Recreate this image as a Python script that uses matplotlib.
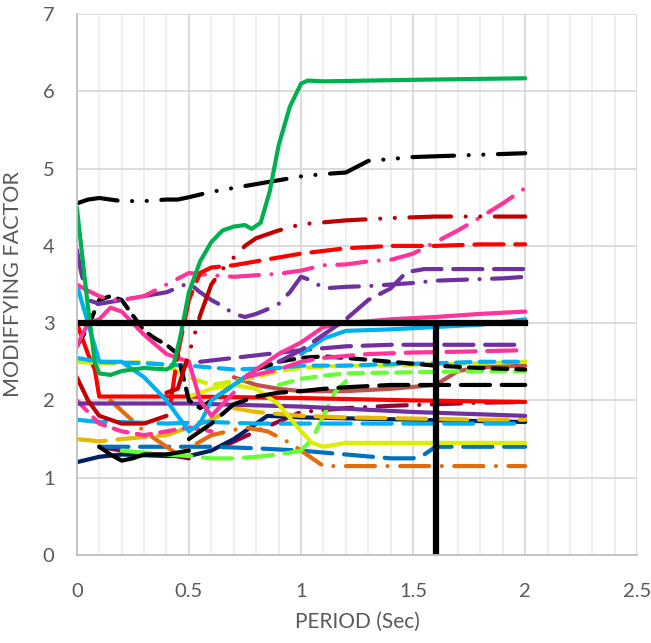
import matplotlib
matplotlib.use("Agg")
import matplotlib.pyplot as plt
from matplotlib.ticker import MultipleLocator

plt.rcParams['font.family'] = ['Lato', 'DejaVu Sans']

# ---------------- data ----------------
# each curve: periods, factors
green_x = [0, 0.05, 0.08, 0.1, 0.15, 0.2, 0.3, 0.4, 0.43, 0.46, 0.5, 0.55, 0.6, 0.65, 0.7, 0.75, 0.78, 0.82, 0.86, 0.9, 0.95, 1.0, 1.03, 1.1, 1.5, 2.0]
green_y = [4.5, 3.2, 2.5, 2.35, 2.33, 2.38, 2.42, 2.4, 2.45, 2.8, 3.4, 3.8, 4.05, 4.2, 4.25, 4.27, 4.22, 4.3, 4.7, 5.3, 5.8, 6.1, 6.14, 6.13, 6.15, 6.17]

blk_top_x = [0, 0.05, 0.1, 0.2, 0.3, 0.4, 0.45, 0.5, 0.6, 0.7, 0.8, 0.9, 1.0, 1.1, 1.2, 1.3, 1.5, 1.7, 2.0]
blk_top_y = [4.55, 4.6, 4.62, 4.58, 4.58, 4.6, 4.6, 4.63, 4.7, 4.75, 4.8, 4.85, 4.9, 4.93, 4.95, 5.1, 5.15, 5.17, 5.2]

dred_x = [0.4, 0.45, 0.5, 0.55, 0.6, 0.65, 0.7, 0.75, 0.8, 0.9, 1.0, 1.2, 1.4, 1.6, 1.8, 2.0]
dred_y = [2.1, 2.15, 2.6, 3.1, 3.5, 3.7, 3.85, 4.0, 4.1, 4.2, 4.28, 4.33, 4.36, 4.38, 4.38, 4.38]

red_d_x = [0.42, 0.45, 0.5, 0.55, 0.6, 0.7, 0.8, 0.9, 1.0, 1.2, 1.4, 1.6, 1.8, 2.0]
red_d_y = [2.0, 2.6, 3.3, 3.65, 3.72, 3.75, 3.8, 3.85, 3.9, 3.97, 4.0, 4.0, 4.02, 4.02]

pink_top_x = [0, 0.05, 0.1, 0.15, 0.2, 0.3, 0.4, 0.5, 0.6, 0.7, 0.8, 0.9, 1.0, 1.1, 1.2, 1.3, 1.4, 1.5, 1.6, 1.7, 1.8, 1.9, 2.0]
pink_top_y = [3.5, 3.42, 3.35, 3.3, 3.3, 3.35, 3.5, 3.65, 3.62, 3.6, 3.62, 3.64, 3.68, 3.75, 3.76, 3.8, 3.82, 3.9, 4.05, 4.2, 4.37, 4.55, 4.75]

purp_a_x = [0, 0.02, 0.05, 0.1, 0.2, 0.3, 0.4, 0.5, 0.55, 0.6, 0.65, 0.7, 0.75, 0.8, 0.85, 0.9, 0.95, 1.0, 1.05, 1.1, 1.2, 1.3, 1.4, 1.5, 1.6, 1.7, 1.8, 1.9, 2.0]
purp_a_y = [3.95, 3.65, 3.3, 3.25, 3.3, 3.35, 3.4, 3.52, 3.4, 3.3, 3.22, 3.12, 3.08, 3.12, 3.18, 3.25, 3.4, 3.6, 3.55, 3.45, 3.47, 3.48, 3.5, 3.52, 3.55, 3.56, 3.57, 3.58, 3.6]

purp_b_x = [0.9, 1.0, 1.1, 1.2, 1.3, 1.4, 1.47, 1.55, 1.7, 1.85, 2.0]
purp_b_y = [2.5, 2.65, 2.85, 3.05, 3.3, 3.45, 3.66, 3.7, 3.7, 3.7, 3.7]

pink_s_x = [0.75, 0.8, 0.9, 1.0, 1.1, 1.2, 1.4, 1.6, 1.8, 2.0]
pink_s_y = [2.3, 2.4, 2.6, 2.75, 2.95, 3.0, 3.05, 3.08, 3.12, 3.15]

cyan_s_x = [1.0, 1.1, 1.2, 1.4, 1.6, 1.8, 2.0]
cyan_s_y = [2.6, 2.8, 2.9, 2.92, 2.95, 2.98, 3.05]

purp_d_x = [0.55, 0.7, 0.85, 1.0, 1.2, 1.4, 1.6, 1.8, 2.0]
purp_d_y = [2.5, 2.55, 2.6, 2.65, 2.7, 2.72, 2.72, 2.72, 2.72]

pink_d_x = [0.75, 0.9, 1.0, 1.1, 1.3, 1.5, 1.7, 2.0]
pink_d_y = [2.3, 2.4, 2.5, 2.55, 2.6, 2.62, 2.63, 2.65]

blk_d_x = [0, 0.05, 0.1, 0.15, 0.2, 0.25, 0.3, 0.35, 0.4, 0.45, 0.5, 0.55, 0.6, 0.7, 0.8, 0.9, 1.0, 1.1, 1.2, 1.4, 1.6, 1.8, 2.0]
blk_d_y = [2.7, 2.95, 3.3, 3.35, 3.3, 3.1, 2.9, 2.8, 2.72, 2.6, 2.0, 1.9, 2.0, 2.2, 2.4, 2.5, 2.55, 2.57, 2.55, 2.5, 2.45, 2.42, 2.4]

ylw_d_x = [0, 0.1, 0.2, 0.3, 0.4, 0.5, 0.6, 0.7, 0.8, 0.9, 1.0, 1.2, 1.4, 1.6, 1.8, 2.0]
ylw_d_y = [2.5, 2.48, 2.48, 2.5, 2.45, 2.3, 2.2, 2.25, 2.3, 2.38, 2.42, 2.45, 2.45, 2.47, 2.48, 2.5]

lgrn_d_x = [0.9, 1.0, 1.1, 1.2, 1.4, 1.6, 1.8, 2.0]
lgrn_d_y = [2.2, 2.28, 2.32, 2.35, 2.36, 2.37, 2.38, 2.38]

cyan_d_x = [0, 0.1, 0.3, 0.5, 0.7, 0.9, 1.0, 1.2, 1.4, 1.6, 1.8, 2.0]
cyan_d_y = [2.55, 2.5, 2.48, 2.45, 2.4, 2.42, 2.45, 2.45, 2.47, 2.48, 2.5, 2.5]

brown_x = [0.7, 0.8, 0.9, 1.0, 1.2, 1.4, 1.6, 1.7, 1.8, 2.0]
brown_y = [2.3, 2.2, 2.15, 2.12, 2.12, 2.15, 2.2, 2.38, 2.43, 2.45]

blk_l_x = [0.5, 0.6, 0.7, 0.8, 0.9, 1.0, 1.1, 1.2, 1.4, 1.6, 1.8, 2.0]
blk_l_y = [1.5, 1.7, 1.95, 2.05, 2.1, 2.12, 2.15, 2.17, 2.2, 2.2, 2.2, 2.2]

red_s_x = [0, 0.05, 0.08, 0.1, 0.2, 0.5, 1.0, 1.5, 2.0]
red_s_y = [3.0, 2.6, 2.4, 2.05, 2.05, 2.05, 2.03, 2.0, 1.98]

maroon_x = [0.65, 0.8, 1.0, 1.2, 1.4, 1.6, 1.8, 2.0]
maroon_y = [1.4, 1.6, 1.85, 1.9, 1.93, 1.95, 1.97, 1.98]

purp_s_x = [0, 0.5, 1.0, 1.5, 2.0]
purp_s_y = [1.96, 1.96, 1.92, 1.85, 1.8]

gold_x = [0, 0.1, 0.2, 0.4, 0.6, 0.7, 0.8, 1.0, 1.2, 1.4, 1.6, 1.8, 2.0]
gold_y = [1.5, 1.47, 1.5, 1.55, 1.75, 1.9, 1.85, 1.8, 1.78, 1.77, 1.76, 1.75, 1.75]

cyan_l_x = [0, 0.1, 0.2, 0.4, 0.6, 0.8, 1.0, 1.2, 1.4, 1.6, 1.8, 2.0]
cyan_l_y = [1.75, 1.72, 1.72, 1.7, 1.72, 1.7, 1.7, 1.7, 1.7, 1.7, 1.7, 1.7]

navy_x = [0, 0.1, 0.2, 0.4, 0.5, 0.6, 0.7, 0.8, 0.85, 1.0, 1.5, 2.0]
navy_y = [1.2, 1.27, 1.3, 1.28, 1.28, 1.35, 1.5, 1.7, 1.8, 1.78, 1.75, 1.72]

ylw_s_x = [0.5, 0.6, 0.7, 0.8, 0.9, 1.0, 1.05, 1.1, 1.2, 1.5, 2.0]
ylw_s_y = [2.05, 2.15, 2.2, 2.15, 1.95, 1.6, 1.45, 1.4, 1.45, 1.45, 1.45]

blue_x = [0.1, 0.2, 0.4, 0.6, 0.8, 1.0, 1.2, 1.4, 1.5, 1.55, 1.6, 1.8, 2.0]
blue_y = [1.4, 1.4, 1.4, 1.4, 1.38, 1.35, 1.3, 1.25, 1.25, 1.3, 1.4, 1.4, 1.4]

orange_x = [0.15, 0.3, 0.45, 0.6, 0.75, 0.85, 0.95, 1.1, 1.3, 1.5, 1.7, 2.0]
orange_y = [2.0, 1.6, 1.3, 1.55, 1.65, 1.6, 1.45, 1.15, 1.15, 1.15, 1.15, 1.15]

lgrn_l_x = [0.2, 0.4, 0.5, 0.6, 0.7, 0.8, 0.9, 1.0, 1.05, 1.1, 1.15, 1.2]
lgrn_l_y = [1.35, 1.3, 1.28, 1.25, 1.25, 1.27, 1.3, 1.35, 1.5, 1.8, 2.1, 2.25]

pink_l_x = [0, 0.1, 0.2, 0.3, 0.4, 0.5, 0.6]
pink_l_y = [2.0, 1.7, 1.6, 1.55, 1.6, 1.65, 1.6]

cyan_w_x = [0, 0.05, 0.1, 0.2, 0.3, 0.4, 0.5, 0.55, 0.6, 0.7, 0.8]
cyan_w_y = [3.5, 3.0, 2.5, 2.5, 2.3, 2.0, 1.6, 1.7, 2.0, 2.2, 2.4]

pink_w_x = [0, 0.05, 0.1, 0.15, 0.2, 0.3, 0.4, 0.5, 0.55, 0.6, 0.7]
pink_w_y = [2.7, 3.0, 3.05, 3.2, 3.15, 2.85, 2.6, 2.5, 2.0, 1.8, 2.1]

dred_w_x = [0, 0.05, 0.1, 0.2, 0.3, 0.4]
dred_w_y = [2.3, 2.0, 1.8, 1.7, 1.7, 1.8]

blk_w_x = [0.1, 0.15, 0.2, 0.25, 0.3, 0.4, 0.5]
blk_w_y = [1.4, 1.3, 1.22, 1.25, 1.3, 1.3, 1.35]

maroon_w_x = [0.1, 0.2, 0.3, 0.4, 0.5]
maroon_w_y = [1.4, 1.35, 1.3, 1.3, 1.25]

# limit lines
limit_factor = 3.0
limit_period = 1.6

# ---------------- styles ----------------
SOLID = '-'
DASH = (0, (3.5, 2.2))
LDASH = (0, (7, 2.8))
DASHDOT = (0, (7, 3, 0.01, 3))
DDOT = (0, (10, 3.5, 0.01, 3.5, 0.01, 3.5))

curves = [
    ('#c0504d', SOLID, brown_x, brown_y),
    ('#990033', DASHDOT, maroon_x, maroon_y),
    ('#990033', SOLID, maroon_w_x, maroon_w_y),
    ('#002060', SOLID, navy_x, navy_y),
    ('#0070c0', LDASH, blue_x, blue_y),
    ('#e46c0a', DASHDOT, orange_x, orange_y),
    ('#66ff33', LDASH, lgrn_l_x, lgrn_l_y),
    ('#e6b800', LDASH, gold_x, gold_y),
    ('#00b0f0', LDASH, cyan_l_x, cyan_l_y),
    ('#ff3399', DASH, pink_l_x, pink_l_y),
    ('#7030a0', SOLID, purp_s_x, purp_s_y),
    ('#ff0000', SOLID, red_s_x, red_s_y),
    ('#c00000', SOLID, dred_w_x, dred_w_y),
    ('#000000', SOLID, blk_w_x, blk_w_y),
    ('#ddee00', SOLID, ylw_s_x, ylw_s_y),
    ('#000000', LDASH, blk_l_x, blk_l_y),
    ('#66ff33', DASH, lgrn_d_x, lgrn_d_y),
    ('#ccee00', DASH, ylw_d_x, ylw_d_y),
    ('#00b0f0', DASH, cyan_d_x, cyan_d_y),
    ('#000000', DASH, blk_d_x, blk_d_y),
    ('#ff3399', LDASH, pink_d_x, pink_d_y),
    ('#7030a0', LDASH, purp_d_x, purp_d_y),
    ('#00b0f0', SOLID, cyan_w_x, cyan_w_y),
    ('#ff3399', SOLID, pink_w_x, pink_w_y),
    ('#00b0f0', SOLID, cyan_s_x, cyan_s_y),
    ('#ff3399', SOLID, pink_s_x, pink_s_y),
    ('#7030a0', LDASH, purp_b_x, purp_b_y),
    ('#7030a0', DASHDOT, purp_a_x, purp_a_y),
    ('#ff3399', DASHDOT, pink_top_x, pink_top_y),
    ('#ff0000', LDASH, red_d_x, red_d_y),
    ('#c00000', DDOT, dred_x, dred_y),
    ('#000000', DDOT, blk_top_x, blk_top_y),
    ('#00b050', SOLID, green_x, green_y),
]

# ---------------- plot ----------------
fig = plt.figure(figsize=(6.51, 6.43), dpi=100)
ax = fig.add_axes([0.118, 0.137, 0.861, 0.841])

for col, ls, xs, ys in curves:
    ax.plot(xs, ys, color=col, linestyle=ls, linewidth=3,
            solid_capstyle='round', dash_capstyle='round')

ax.plot([0, 2], [limit_factor, limit_factor], color='black', linewidth=4.5)
ax.plot([limit_period, limit_period], [0, limit_factor], color='black', linewidth=4.5)

ax.set_xlim(0, 2.5)
ax.set_ylim(0, 7)
ax.xaxis.set_major_locator(MultipleLocator(0.5))
ax.xaxis.set_minor_locator(MultipleLocator(0.1))
ax.yaxis.set_major_locator(MultipleLocator(1))
ax.grid(which='major', color='#d9d9d9', linewidth=1.3)
ax.grid(which='minor', axis='x', color='#ebebeb', linewidth=1.1)
ax.set_axisbelow(True)

for s in ['top', 'right']:
    ax.spines[s].set_visible(False)
for s in ['left', 'bottom']:
    ax.spines[s].set_color('#bfbfbf')
    ax.spines[s].set_linewidth(1.3)

ax.tick_params(which='both', length=0, labelsize=14.5, colors='#595959')
ax.tick_params(axis='x', pad=20)
ax.tick_params(axis='y', pad=16)
ax.set_xticks([0, 0.5, 1, 1.5, 2, 2.5])
ax.set_xticklabels(['0', '0.5', '1', '1.5', '2', '2.5'])

ax.set_xlabel('PERIOD (Sec)', fontsize=15, color='#595959', labelpad=9)
ax.set_ylabel('MODIFFYING FACTOR', fontsize=15.5, color='#595959', labelpad=14)

fig.savefig('out.png', dpi=100)
